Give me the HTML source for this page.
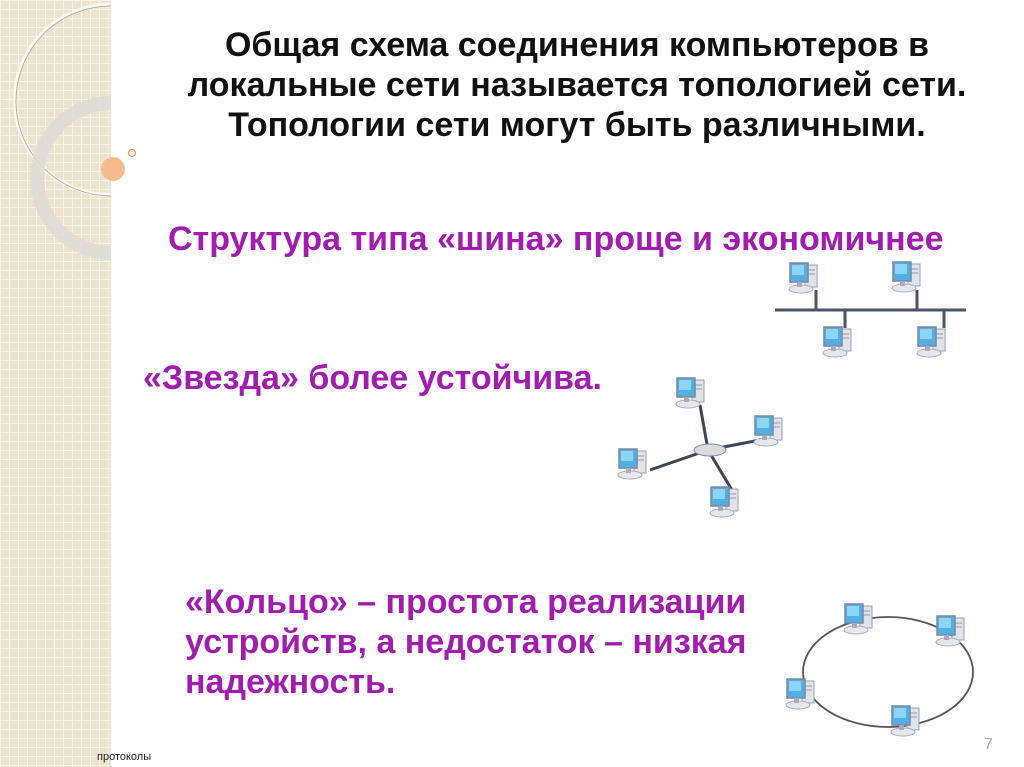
<!DOCTYPE html>
<html><head><meta charset="utf-8"><style>
body{margin:0;width:1024px;height:767px;position:relative;overflow:hidden;background:#fff;font-family:"Liberation Sans",sans-serif}
.band{position:absolute;left:0;top:0;width:111px;height:767px;background-color:#ece3cf;
background-image:linear-gradient(#f7f2e6 1px,transparent 1px),linear-gradient(90deg,#f7f2e6 1px,transparent 1px);background-size:9px 9px}
.t{position:absolute;font-weight:bold;white-space:nowrap}
.p{color:#a21caf;font-size:34px}
</style></head><body>
<div class="band"></div>
<svg width="1024" height="767" style="position:absolute;left:0;top:0">
<defs>
<g id="pc">
<rect x="17" y="3" width="12" height="22" fill="#dfe3ea" stroke="#9aa3b2"/>
<line x1="19" y1="8" x2="27" y2="8" stroke="#99a"/><line x1="19" y1="12" x2="27" y2="12" stroke="#99a"/>
<ellipse cx="13" cy="27" rx="12" ry="4" fill="#e4e7ee" stroke="#aab"/>
<rect x="2" y="1" width="18" height="19" fill="#4fb0e8" stroke="#7d8899" stroke-width="1.5"/>
<rect x="4" y="3" width="12" height="10" fill="#8fd4f7"/>
<rect x="9" y="20" width="5" height="5" fill="#aab"/>
</g>
<clipPath id="cl"><rect x="0" y="0" width="111" height="767"/></clipPath>
</defs>
<g clip-path="url(#cl)" fill="none">
<circle cx="110" cy="100" r="95" stroke="#fbf8f0" stroke-width="4"/>
<circle cx="110" cy="100" r="95" stroke="#b5ac9a" stroke-width="1" transform="translate(1,1)"/>
<circle cx="112" cy="178" r="75" stroke="#dcdad4" stroke-width="14" opacity="0.85"/>
</g>
<circle cx="113" cy="169" r="12" fill="#f7b98f"/>
<circle cx="132" cy="153" r="3.5" fill="none" stroke="#e69a6a" stroke-width="1.3"/>
<g stroke="#4a5568" stroke-width="3">
<line x1="775" y1="310" x2="966" y2="310"/>
<line x1="816" y1="290" x2="816" y2="310"/><line x1="917" y1="290" x2="917" y2="310"/>
<line x1="845" y1="310" x2="845" y2="328"/><line x1="944" y1="310" x2="944" y2="328"/>
</g>
<use href="#pc" x="788" y="262"/><use href="#pc" x="891" y="261"/>
<use href="#pc" x="822" y="326"/><use href="#pc" x="916" y="326"/>
<g stroke="#3e4656" stroke-width="3">
<line x1="708" y1="450" x2="700" y2="405"/><line x1="708" y1="450" x2="760" y2="440"/>
<line x1="708" y1="450" x2="650" y2="470"/><line x1="708" y1="450" x2="732" y2="490"/>
</g>
<ellipse cx="710" cy="450" rx="16" ry="6" fill="#d8dbe2" stroke="#889"/>
<use href="#pc" x="675" y="377"/><use href="#pc" x="753" y="415"/>
<use href="#pc" x="617" y="448"/><use href="#pc" x="709" y="486"/>
<ellipse cx="888" cy="672" rx="85" ry="55" fill="none" stroke="#555" stroke-width="1.8"/>
<use href="#pc" x="843" y="603"/><use href="#pc" x="935" y="615"/>
<use href="#pc" x="785" y="678"/><use href="#pc" x="890" y="705"/>
</svg>
<div class="t" style="left:77px;width:1000px;text-align:center;top:25px;font-size:34px;line-height:40px;color:#111">Общая схема соединения компьютеров в<br>локальные сети называется топологией сети.<br>Топологии сети могут быть различными.</div>
<div class="t p" style="left:168px;top:220px">Структура типа «шина» проще и экономичнее</div>
<div class="t p" style="left:143px;top:359px">«Звезда» более устойчива.</div>
<div class="t p" style="left:185px;top:582px;line-height:40px">«Кольцо» – простота реализации<br>устройств, а недостаток – низкая<br>надежность.</div>
<div style="position:absolute;left:97px;top:751px;font-size:11px;color:#222">протоколы</div>
<div style="position:absolute;left:984px;top:736px;font-size:16px;color:#aaa">7</div>
</body></html>
